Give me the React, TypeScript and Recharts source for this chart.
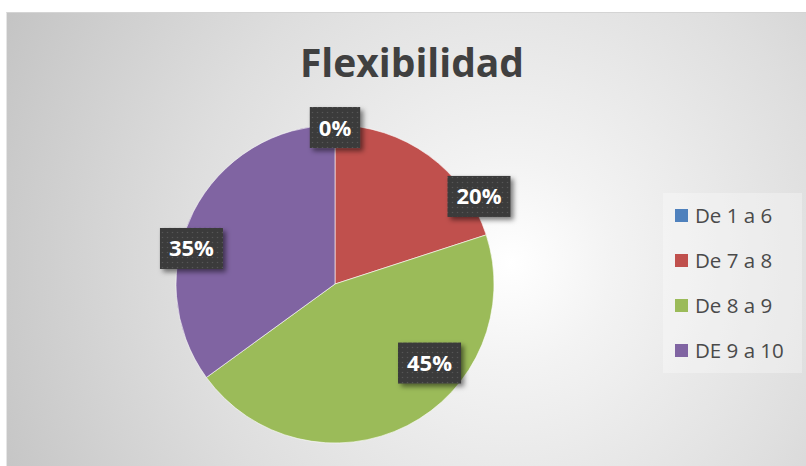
import { Legend, Pie, PieChart } from 'recharts';

// Flexibilidad — distribución por rango de puntuación
const categories = ['De 1 a 6', 'De 7 a 8', 'De 8 a 9', 'DE 9 a 10'];
const shares = [0, 20, 45, 35];

const sliceColors = ['#4F81BD', '#C0504D', '#9BBB59', '#8064A2'];

// Excel "best fit" label placement: clock angle (deg from 12 o'clock) and radius factor
const labelClock = [0, 58.7, 129.9, 283.9];
const labelRadius = [0.984, 1.06, 0.775, 0.93];

const data = categories.map((name, i) => ({ name, value: shares[i], fill: sliceColors[i] }));

const font = '"Open Sans", "Noto Sans", sans-serif';

const renderLabel = (props: any) => {
  const { cx, cy, outerRadius, index } = props;
  const a = (labelClock[index] * Math.PI) / 180;
  const r = outerRadius * labelRadius[index];
  const x = cx + r * Math.sin(a);
  const y = cy - r * Math.cos(a);
  const text = `${shares[index]}%`;
  const w = 18 + (text.length - 1) * 12.6 + 19.8;
  return (
    <g key={`lbl-${index}`}>
      <rect
        x={x - w / 2}
        y={y - 20.5}
        width={w}
        height={41}
        fill="url(#dots) #3a3a3a"
        filter="url(#boxShadow)"
      />
      <text
        x={x}
        y={y + 8}
        textAnchor="middle"
        fill="#ffffff"
        fontSize={22}
        fontWeight={700}
        fontFamily={font}
      >
        {text}
      </text>
    </g>
  );
};

// keep the legend in category order (Recharts sorts by name otherwise)
const renderLegend = () => (
  <div style={{ width: '100%', height: '100%', background: 'rgba(255,255,255,0.3)' }}>
    {categories.map((name, i) => (
      <div
        key={`leg-${i}`}
        style={{ height: 45, display: 'flex', alignItems: 'center', paddingLeft: 12 }}
      >
        <span
          style={{ width: 13, height: 13, background: sliceColors[i], display: 'inline-block', marginRight: 7 }}
        />
        <span style={{ fontFamily: font, fontSize: 20.5, color: '#4a4a4a', lineHeight: '21px' }}>
          {name}
        </span>
      </div>
    ))}
  </div>
);

export default function App() {
  return (
    <div style={{ position: 'absolute', left: 0, top: 0, width: 806, height: 466, background: '#fff', overflow: 'hidden' }}>
      <div
        style={{
          position: 'absolute',
          left: 6,
          top: 12,
          width: 800,
          height: 454,
          borderTop: '1px solid #d4d4d4',
          borderLeft: '1px solid #e6e6e6',
          background:
            'radial-gradient(circle at 63% 55%, #ffffff 0%, #f3f3f3 18%, #dedede 58%, #c4c4c4 100%)',
        }}
      />
      <div
        style={{
          position: 'absolute',
          left: 412,
          top: 42,
          transform: 'translateX(-50%)',
          fontFamily: font,
          fontWeight: 700,
          fontSize: 39,
          lineHeight: '39px',
          color: '#404040',
          whiteSpace: 'nowrap',
        }}
      >
        Flexibilidad
      </div>
      <div style={{ position: 'absolute', left: 0, top: 0 }}>
        <PieChart width={806} height={466} margin={{ top: 0, right: 0, bottom: 0, left: 0 }}>
          <defs>
            <pattern id="dots" width="5" height="5" patternUnits="userSpaceOnUse">
              <rect width="5" height="5" fill="#3a3a3a" />
              <circle cx="2.5" cy="2.5" r="0.8" fill="#565656" />
            </pattern>
            <filter id="boxShadow" x="-20%" y="-20%" width="150%" height="160%">
              <feDropShadow dx="3" dy="3" stdDeviation="2.5" floodColor="#000" floodOpacity="0.5" />
            </filter>
          </defs>
          <Pie
            data={data}
            dataKey="value"
            nameKey="name"
            cx={335}
            cy={284}
            outerRadius={159}
            startAngle={90}
            endAngle={-270}
            stroke="#ffffff"
            strokeWidth={0.6}
            label={renderLabel}
            labelLine={false}
            isAnimationActive={false}
          />
          <Legend
            layout="vertical"
            align="right"
            verticalAlign="top"
            content={renderLegend}
            wrapperStyle={{ left: 663, top: 193, width: 139, height: 180 }}
          />
        </PieChart>
      </div>
    </div>
  );
}
